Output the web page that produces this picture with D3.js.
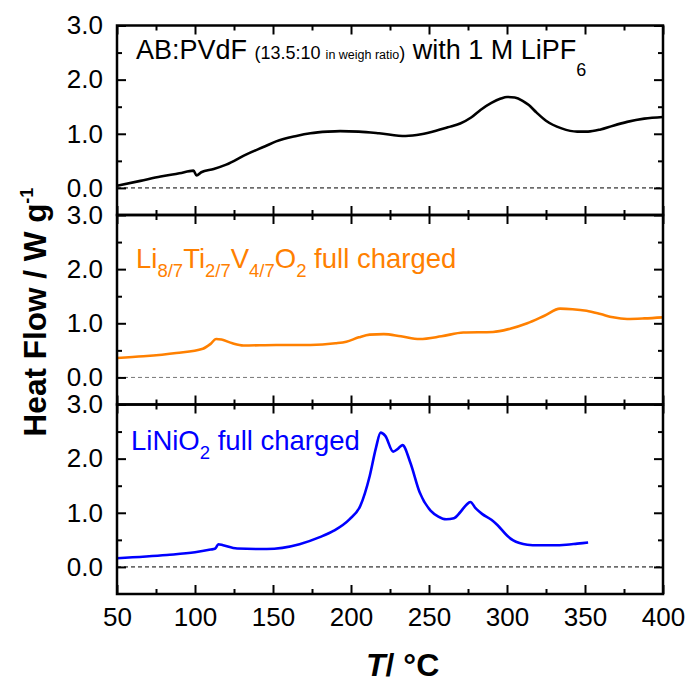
<!DOCTYPE html>
<html>
<head>
<meta charset="utf-8">
<script src="https://cdn.jsdelivr.net/npm/d3@7"></script>
<style>
body { margin: 0; background: #fff; }
text { font-family: Arial, "Liberation Sans", sans-serif; }
</style>
</head>
<body>
<div id="chart"></div>
<script>
// AB:PVdF with 1 M LiPF6 (black)
const tempAB = [50, 65, 78, 90, 99, 101, 104, 112, 120, 133, 145, 152, 165, 174, 185, 193, 205, 218, 235, 245, 255, 262, 270, 277, 283, 290, 296, 300, 305, 310, 314, 319, 325, 335, 345, 352, 360, 368, 377, 388, 400];
const flowAB = [0.04, 0.13, 0.21, 0.27, 0.32, 0.23, 0.29, 0.35, 0.43, 0.62, 0.77, 0.86, 0.96, 1.01, 1.04, 1.05, 1.04, 1.01, 0.96, 0.99, 1.06, 1.12, 1.19, 1.30, 1.44, 1.57, 1.65, 1.68, 1.67, 1.61, 1.53, 1.39, 1.24, 1.10, 1.04, 1.04, 1.08, 1.15, 1.22, 1.28, 1.31];

// Li8/7Ti2/7V4/7O2 full charged (orange)
const tempLTV = [50, 67, 88, 105, 110, 113.5, 117, 124, 131, 152, 174, 190, 197, 205, 212, 221, 232, 244, 258, 272, 291, 302, 313, 324, 334, 342, 351, 360, 368, 377, 388, 400];
const flowLTV = [0.36, 0.39, 0.45, 0.53, 0.62, 0.71, 0.70, 0.63, 0.59, 0.60, 0.60, 0.63, 0.66, 0.74, 0.79, 0.80, 0.76, 0.71, 0.76, 0.83, 0.84, 0.90, 1.00, 1.14, 1.27, 1.26, 1.23, 1.17, 1.11, 1.08, 1.09, 1.11];

// LiNiO2 full charged (blue)
const tempLNO = [50, 82, 100, 110, 113, 115, 118, 127, 146, 167, 180, 189, 199, 206, 212, 216, 219, 222, 227, 230, 233, 238, 244, 251, 256, 261, 266, 270, 274, 276.5, 280, 284, 290, 294, 300, 304, 308, 313, 320, 330, 338, 345, 352];
const flowLNO = [0.16, 0.22, 0.27, 0.32, 0.34, 0.42, 0.40, 0.34, 0.33, 0.42, 0.55, 0.67, 0.88, 1.13, 1.68, 2.20, 2.48, 2.42, 2.13, 2.18, 2.25, 1.93, 1.38, 1.04, 0.93, 0.88, 0.90, 1.01, 1.15, 1.20, 1.08, 0.98, 0.87, 0.77, 0.58, 0.49, 0.44, 0.41, 0.40, 0.40, 0.41, 0.43, 0.45];

const xMajor = [50, 100, 150, 200, 250, 300, 350, 400];
const xMinor = [75, 125, 175, 225, 275, 325, 375];
const yMajor = [0, 1, 2, 3];
const yMinor = [0.5, 1.5, 2.5];

const margin = {top: 25.5, left: 117};
const width = 546, panelH = 189.5;

const x = d3.scaleLinear().domain([50, 400]).range([0, width]);
const y = d3.scaleLinear().domain([-0.5, 3]).range([panelH, 0]);

const svg = d3.select("#chart").append("svg")
    .attr("width", 688)
    .attr("height", 685);

const panels = [
    {t: tempAB, v: flowAB, color: "#000", zero: "#000"},
    {t: tempLTV, v: flowLTV, color: "#ff8000", zero: "#777"},
    {t: tempLNO, v: flowLNO, color: "#0000ff", zero: "#000"}
];

const line = d3.line()
    .x(d => x(d[0]))
    .y(d => y(d[1]))
    .curve(d3.curveMonotoneX);

function cleanAxis(g) {
    g.select(".domain").remove();
    g.selectAll(".tick line").attr("stroke", "#000").attr("stroke-width", 2);
    g.selectAll(".tick text").attr("fill", "#000").style("font-size", "26px");
}

panels.forEach((p, i) => {
    const g = svg.append("g")
        .attr("transform", `translate(${margin.left},${margin.top + i * panelH})`);

    // dashed zero line
    g.append("line")
        .attr("x1", 0).attr("x2", width)
        .attr("y1", y(0)).attr("y2", y(0))
        .attr("stroke", p.zero)
        .attr("stroke-width", 1)
        .attr("stroke-dasharray", "4,3");

    // the curve
    const pts = p.t.map((t, j) => [t, p.v[j]]);
    g.append("path")
        .datum(pts)
        .attr("fill", "none")
        .attr("stroke", p.color)
        .attr("stroke-width", 2.6)
        .attr("d", line);

    // left axis
    g.append("g")
        .call(d3.axisLeft(y).tickValues(yMajor).tickSize(-9).tickPadding(14).tickFormat(d3.format(".1f")))
        .call(cleanAxis);
    g.append("g")
        .call(d3.axisLeft(y).tickValues(yMinor).tickSize(-5).tickFormat(""))
        .call(cleanAxis);

    // right axis
    g.append("g")
        .attr("transform", `translate(${width},0)`)
        .call(d3.axisRight(y).tickValues(yMajor).tickSize(-9).tickFormat(""))
        .call(cleanAxis);
    g.append("g")
        .attr("transform", `translate(${width},0)`)
        .call(d3.axisRight(y).tickValues(yMinor).tickSize(-5).tickFormat(""))
        .call(cleanAxis);

    // top axis
    g.append("g")
        .call(d3.axisTop(x).tickValues(xMajor).tickSize(-9).tickFormat(""))
        .call(cleanAxis);
    g.append("g")
        .call(d3.axisTop(x).tickValues(xMinor).tickSize(-5).tickFormat(""))
        .call(cleanAxis);

    // bottom axis
    const last = i === panels.length - 1;
    g.append("g")
        .attr("transform", `translate(0,${panelH})`)
        .call(d3.axisBottom(x).tickValues(xMajor).tickSize(-9).tickPadding(14)
            .tickFormat(last ? d3.format("d") : ""))
        .call(cleanAxis);
    g.append("g")
        .attr("transform", `translate(0,${panelH})`)
        .call(d3.axisBottom(x).tickValues(xMinor).tickSize(-5).tickFormat(""))
        .call(cleanAxis);

    // frame
    g.append("rect")
        .attr("width", width).attr("height", panelH)
        .attr("fill", "none")
        .attr("stroke", "#000")
        .attr("stroke-width", 2.5);
});

// panel annotations
const t1 = svg.append("text")
    .attr("x", 136).attr("y", 59)
    .attr("fill", "#000")
    .style("font-size", "27px");
t1.append("tspan").text("AB:PVdF ");
t1.append("tspan").style("font-size", "18px").text("(13.5:10 ");
t1.append("tspan").style("font-size", "12.5px").text("in weigh ratio");
t1.append("tspan").style("font-size", "18px").text(")");
t1.append("tspan").text(" with 1 M LiPF");
t1.append("tspan").style("font-size", "18px").attr("dy", 17).text("6");

const t2 = svg.append("text")
    .attr("x", 136).attr("y", 268)
    .attr("fill", "#ff8000")
    .style("font-size", "27.5px");
[["Li", "8/7"], ["Ti", "2/7"], ["V", "4/7"], ["O", "2"]].forEach(([main, sub], k) => {
    t2.append("tspan").attr("dy", k === 0 ? 0 : -9).text(main);
    t2.append("tspan").style("font-size", "18.5px").attr("dy", 9).text(sub);
});
t2.append("tspan").attr("dy", -9).text(" full charged");

const t3 = svg.append("text")
    .attr("x", 131).attr("y", 450)
    .attr("fill", "#0000ff")
    .style("font-size", "27.5px");
t3.append("tspan").text("LiNiO");
t3.append("tspan").style("font-size", "18.5px").attr("dy", 9).text("2");
t3.append("tspan").attr("dy", -9).text(" full charged");

// y axis title
const yl = svg.append("text")
    .attr("transform", "translate(46,312) rotate(-90)")
    .attr("text-anchor", "middle")
    .attr("fill", "#000")
    .style("font-size", "31.5px")
    .style("font-weight", "bold");
yl.append("tspan").text("Heat Flow / W g");
yl.append("tspan").style("font-size", "18px").attr("dy", -13).text("-1");

// x axis title
const xl = svg.append("text")
    .attr("x", 366).attr("y", 676)
    .attr("fill", "#000")
    .style("font-size", "32px")
    .style("font-weight", "bold");
xl.append("tspan").style("font-style", "italic").text("T");
xl.append("tspan").text("/ \u00b0C");
</script>
</body>
</html>
